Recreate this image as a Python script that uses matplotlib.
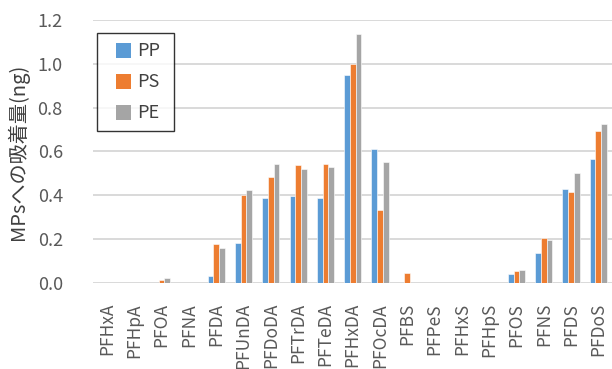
import numpy as np
import matplotlib.pyplot as plt
from matplotlib.patches import Rectangle
from matplotlib.container import BarContainer
from matplotlib.legend_handler import HandlerPatch, update_from_first_child

plt.rcParams['font.family'] = ['Noto Sans CJK JP', 'DejaVu Sans']

compounds = ['PFHxA', 'PFHpA', 'PFOA', 'PFNA', 'PFDA', 'PFUnDA', 'PFDoDA', 'PFTrDA',
             'PFTeDA', 'PFHxDA', 'PFOcDA', 'PFBS', 'PFPeS', 'PFHxS', 'PFHpS', 'PFOS',
             'PFNS', 'PFDS', 'PFDoS']
pp = [0, 0, 0, 0, 0.033, 0.184, 0.388, 0.399, 0.388, 0.950, 0.612, 0, 0, 0, 0, 0.040,
      0.138, 0.429, 0.566]
ps = [0, 0, 0.014, 0, 0.178, 0.400, 0.483, 0.537, 0.545, 0.997, 0.335, 0.044, 0, 0, 0, 0.053,
      0.205, 0.416, 0.693]
pe = [0, 0, 0.023, 0, 0.158, 0.425, 0.545, 0.520, 0.527, 1.136, 0.553, 0, 0, 0, 0, 0.058,
      0.196, 0.504, 0.725]
series = {'PP': pp, 'PS': ps, 'PE': pe}
colors = ['#5B9BD5', '#ED7D31', '#A5A5A5']


def square_right(legend, orig_handle, xdescent, ydescent, width, height, fontsize):
    # small square sitting at the right end of the handle box
    s = 10.8
    return Rectangle((-xdescent + width - s, -ydescent + (height - s) / 2), s, s)


fig = plt.figure(figsize=(6.12, 3.69), dpi=100)
ax = fig.add_axes([0.1526, 0.2331, 0.8474, 0.7127])

x = np.arange(len(compounds))
w = 0.21
for i, (name, vals) in enumerate(series.items()):
    ax.bar(x + (i - 1) * w, vals, width=w, color=colors[i], label=name,
           edgecolor='white', linewidth=0.4, zorder=3)

ax.set_xlim(-0.5, len(compounds) - 0.5)
ax.set_ylim(0, 1.2)
yt = np.arange(0, 1.21, 0.2)
ax.set_yticks(yt)
ax.set_yticklabels([f'{v:.1f}' for v in yt], color='#595959', fontsize=13)
ax.set_xticks(x)
ax.set_xticklabels(compounds, rotation=90, color='#595959', fontsize=12.5)
ax.tick_params(axis='both', length=0)
ax.tick_params(axis='y', pad=22)
ax.tick_params(axis='x', pad=14.5)
ax.grid(axis='y', color='#d9d9d9', linewidth=1.4, zorder=0)
for s in ax.spines.values():
    s.set_visible(False)

ax.set_ylabel('MPsへの吸着量(ng)', fontsize=14.5, color='#404040')
ax.yaxis.set_label_coords(-0.124, 0.5)

handler = HandlerPatch(patch_func=square_right, update_func=update_from_first_child)
leg = ax.legend(loc='upper left', bbox_to_anchor=(0.0075, 0.5, 0.148, 0.4494),
                mode='expand', borderaxespad=0, fontsize=13,
                frameon=True, fancybox=False, edgecolor='black',
                handlelength=1.37, handleheight=0.85, labelspacing=0.72,
                borderpad=0.5, handletextpad=0.33,
                handler_map={BarContainer: handler})
leg.get_frame().set_linewidth(1.0)
for h in leg.legend_handles:
    h.set_linewidth(0)
for t in leg.get_texts():
    t.set_color('#404040')

fig.savefig('out.png', dpi=100)
